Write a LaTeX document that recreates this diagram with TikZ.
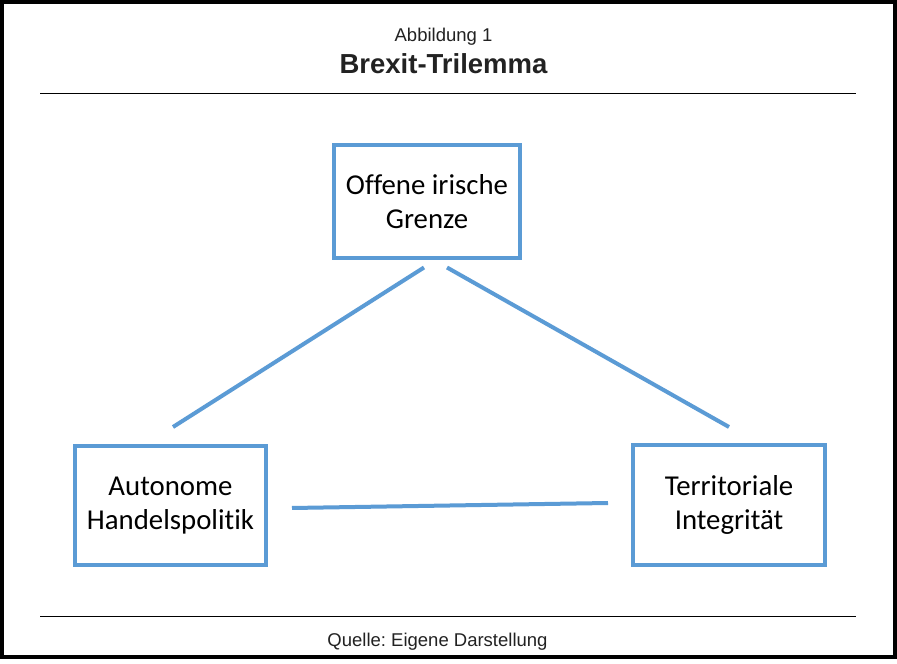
\documentclass[tikz,border=0pt]{standalone}
\usepackage{fontspec}
\setmainfont{Liberation Sans}
\newfontfamily\boxfont[Ligatures={NoCommon,NoRare}]{Carlito}
\usetikzlibrary{calc}
\definecolor{boxblue}{HTML}{5B9BD5}
\definecolor{titlegray}{HTML}{222222}
\frenchspacing
\tikzset{
  trbox/.style={draw=boxblue, line width=4pt, fill=white, minimum width=186pt, minimum height=113pt,
    align=center, font=\boxfont\fontsize{28.8}{34}\selectfont, inner sep=0pt, text=black},
  trlink/.style={draw=boxblue, line width=4pt},
  rulefig/.style={draw=black, line width=1pt},
  capt/.style={font=\fontsize{18.5}{22}\selectfont, text=titlegray, inner sep=0pt},
}
\begin{document}
\begin{tikzpicture}[x=1pt,y=1pt]
\useasboundingbox (0,0) rectangle (897,664);
\fill[white] (0,0) rectangle (897,664);
\draw[line width=4pt] (2,662) rectangle (894.5,7);
% title
\node[capt, anchor=base] (abb) at (443.5,622) {Abbildung 1};
\node[capt, font=\bfseries\fontsize{27.5}{30}\selectfont, anchor=base] (title) at (443.5,590) {Brexit-Trilemma};
\coordinate (r1a) at (40,570);
\coordinate (r1b) at (856,570);
\draw[rulefig] (r1a) -- (r1b);
\coordinate (r2a) at (40,47);
\coordinate (r2b) at (856,47);
\draw[rulefig] (r2a) -- (r2b);
\node[capt, anchor=base] (src) at (437.5,17) {Quelle: Eigene Darstellung};
% boxes
\node[trbox] (top) at (427,462) {Offene irische\\Grenze};
\node[trbox, minimum width=191pt, minimum height=119pt] (left) at (170.5,158.5) {Autonome\\Handelspolitik};
\node[trbox, minimum width=192pt, minimum height=120pt] (right) at (729,159) {Territoriale\\Integrität};
% connectors
\draw[trlink] ([shift={(-3,-7)}]top.south) -- ([shift={(2.5,17)}]left.north);
\draw[trlink] ([shift={(20,-7)}]top.south) -- ([shift={(0,16)}]right.north);
\draw[trlink] ([shift={(24,-2.5)}]left.east) -- ([shift={(-23,2)}]right.west);
\end{tikzpicture}
\end{document}
